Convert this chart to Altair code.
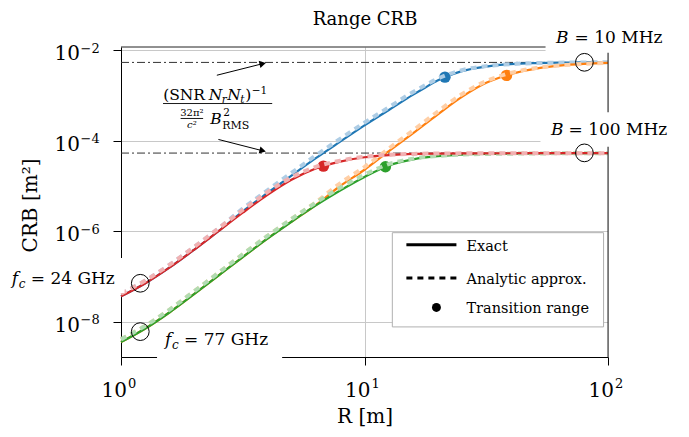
import altair as alt
import pandas as pd

FONT = "DejaVu Serif"

# ---------------- data ----------------
# 24 GHz, B = 100 MHz (red)
R_red = [1.0, 1.259, 1.585, 1.995, 2.512, 3.162, 3.981, 5.012, 6.310, 7.943, 10.0, 12.59,
         15.85, 25.12, 50.12, 100.0]
red_exact = [3.63e-8, 7.08e-8, 1.585e-7, 3.89e-7, 1.0e-6, 2.57e-6, 6.31e-6, 1.38e-5, 2.45e-5,
             3.47e-5, 4.32e-5, 4.84e-5, 5.13e-5, 5.27e-5, 5.31e-5, 5.32e-5]
red_approx = [4.17e-8, 8.13e-8, 1.82e-7, 4.47e-7, 1.15e-6, 2.95e-6, 7.24e-6, 1.55e-5, 2.66e-5,
              3.63e-5, 4.42e-5, 4.90e-5, 5.13e-5, 5.27e-5, 5.31e-5, 5.32e-5]

# 24 GHz, B = 10 MHz (blue)
R_blue = [1.0, 1.259, 1.585, 1.995, 2.512, 3.162, 3.981, 5.012, 6.310, 7.943, 10.0, 12.59,
          15.85, 17.78, 19.95, 22.39, 25.12, 31.62, 39.81, 50.12, 70.79, 100.0]
blue_exact = [3.63e-8, 7.08e-8, 1.585e-7, 3.89e-7, 1.0e-6, 2.75e-6, 6.92e-6, 1.70e-5, 4.12e-5,
              9.55e-5, 2.19e-4, 4.79e-4, 1.047e-3, 1.51e-3, 2.14e-3, 2.82e-3, 3.47e-3, 4.37e-3,
              4.95e-3, 5.22e-3, 5.37e-3, 5.43e-3]
blue_approx = [4.17e-8, 8.13e-8, 1.82e-7, 4.47e-7, 1.15e-6, 3.16e-6, 7.94e-6, 1.95e-5, 4.73e-5,
               1.10e-4, 2.51e-4, 5.50e-4, 1.20e-3, 1.70e-3, 2.34e-3, 3.02e-3, 3.63e-3, 4.47e-3,
               4.95e-3, 5.22e-3, 5.37e-3, 5.43e-3]

# 77 GHz, B = 100 MHz (green)
R_green = [1.0, 1.259, 1.585, 1.995, 2.512, 3.162, 3.981, 5.012, 6.310, 7.943, 10.0, 12.59,
           15.85, 19.95, 25.12, 39.81, 63.10, 100.0]
green_exact = [3.55e-9, 7.08e-9, 1.62e-8, 4.07e-8, 1.047e-7, 2.69e-7, 6.76e-7, 1.62e-6, 3.72e-6,
               7.94e-6, 1.585e-5, 2.85e-5, 3.89e-5, 4.57e-5, 4.95e-5, 5.19e-5, 5.28e-5, 5.32e-5]
green_approx = [4.07e-9, 8.13e-9, 1.86e-8, 4.68e-8, 1.20e-7, 3.09e-7, 7.76e-7, 1.86e-6, 4.27e-6,
                9.12e-6, 1.78e-5, 3.05e-5, 4.03e-5, 4.62e-5, 4.95e-5, 5.19e-5, 5.28e-5, 5.32e-5]

# 77 GHz, B = 10 MHz (orange)
R_orange = [1.0, 1.259, 1.585, 1.995, 2.512, 3.162, 3.981, 5.012, 6.310, 7.943, 10.0, 12.59,
            15.85, 19.95, 25.12, 31.62, 35.48, 39.81, 50.12, 63.10, 79.43, 100.0]
orange_exact = [3.55e-9, 7.08e-9, 1.62e-8, 4.07e-8, 1.047e-7, 2.69e-7, 6.76e-7, 1.62e-6, 3.80e-6,
                1.0e-5, 2.29e-5, 5.89e-5, 1.48e-4, 3.80e-4, 9.33e-4, 1.91e-3, 2.45e-3, 2.99e-3,
                3.89e-3, 4.57e-3, 5.01e-3, 5.25e-3]
orange_approx = [4.07e-9, 8.13e-9, 1.86e-8, 4.68e-8, 1.20e-7, 3.09e-7, 7.76e-7, 1.86e-6, 4.37e-6,
                 1.15e-5, 2.63e-5, 6.76e-5, 1.70e-4, 4.37e-4, 1.07e-3, 2.09e-3, 2.63e-3, 3.16e-3,
                 4.03e-3, 4.62e-3, 5.01e-3, 5.25e-3]

# transition-range dots: red, blue, green, orange
dot_R = [6.78, 21.4, 12.19, 38.3]
dot_CRB = [2.75e-5, 2.55e-3, 2.66e-5, 2.79e-3]

# asymptotes (dash-dot)
asym_CRB = [5.4e-3, 5.35e-5]

# open marker circles
mark_R = [1.2, 1.2, 80.0, 80.0]
mark_CRB = [7.08e-8, 6.04e-9, 5.43e-3, 5.4e-5]

# axis
x_domain = [1.0, 100.0]
y_domain = [1.66e-9, 1.183e-2]
x_ticks = [1, 10, 100]
x_exp = ["0", "1", "2"]
y_ticks = [1e-8, 1e-6, 1e-4, 1e-2]
y_exp = ["\u22128", "\u22126", "\u22124", "\u22122"]

# annotation anchors (data units)
title_pos = (10.05, 0.0356)
b10_pos = (68.9, 0.01427)
b100_pos = (65.7, 1.33e-4)
fc24_pos = (0.356, 6.8e-8)
fc77_pos = (1.517, 3.08e-9)
frac_pos = (2.494, 6.65e-4)
frac_bar = (1.488, 4.178, 6.66e-4)
frac_small_bar = (1.757, 2.174, 3.11e-4)
arrow_start_R = [2.475, 2.512]
arrow_start_C = [2.81e-3, 1.07e-4]
arrow_end_R = [3.818, 3.818]
arrow_end_C = [5.06e-3, 6.01e-5]
# white label boxes: R, R2, C, C2
box_R = [55.4, 52.8, 0.327, 1.406]
box_R2 = [184.4, 184.4, 1.034, 4.59]
box_C = [0.0356, 4.27e-4, 2.56e-7, 8.93e-9]
box_C2 = [8.81e-3, 7.41e-5, 4.33e-8, 1.30e-9]
# legend
leg_box = (13.01, 95.9, 9.3e-7, 7.68e-9)
leg_line_R = (14.86, 23.85)
leg_line_C = [5.0e-7, 9.3e-8]
leg_dot = (19.74, 2.07e-8)
leg_text_R = 26.22
leg_text_C = [3.68e-7, 6.85e-8, 1.52e-8]
leg_labels = ["Exact", "Analytic approx.", "Transition range"]

# ---------------- chart ----------------
xs = alt.Scale(type="log", domain=x_domain, nice=False)
ys = alt.Scale(type="log", domain=y_domain, nice=False)

xaxis = alt.Axis(values=x_ticks, labels=False, ticks=True, tickSize=8, tickColor="black",
                 tickWidth=1, domainColor="black", domainWidth=1, grid=True,
                 gridColor="#c8c8c8", gridWidth=1, title="R [m]", titleFont=FONT,
                 titleFontSize=20, titleFontWeight="normal", titleColor="black",
                 titleBaseline="alphabetic", titleY=65)
yaxis = alt.Axis(values=y_ticks, labels=False, ticks=True, tickSize=8, tickColor="black",
                 tickWidth=1, domainColor="black", domainWidth=1, grid=True,
                 gridColor="#c8c8c8", gridWidth=1, title="CRB [m\u00b2]", titleFont=FONT,
                 titleFontSize=20, titleFontWeight="normal", titleColor="black",
                 titleAngle=270, titleBaseline="alphabetic", titleAlign="center",
                 titleX=-85, titleY=158)


def X(f="R"):
    return alt.X(f"{f}:Q", scale=xs, axis=xaxis)


def Y(f="CRB"):
    return alt.Y(f"{f}:Q", scale=ys, axis=yaxis)


layers = []

# asymptote dash-dot lines
asym = pd.DataFrame({"R": [x_domain[0]] * 2, "R2": [x_domain[1]] * 2, "CRB": asym_CRB})
layers.append(alt.Chart(asym).mark_rule(color="#333333", strokeWidth=1,
                                        strokeDash=[8, 3, 2, 3]).encode(
    x=X(), x2=alt.X2("R2:Q"), y=Y()))

curves = [
    (R_blue, blue_exact, blue_approx, 1, "#1f77b4", "#aecde5"),
    (R_orange, orange_exact, orange_approx, 3, "#ff7f0e", "#ffcfa6"),
    (R_green, green_exact, green_approx, 2, "#2ca02c", "#b2dcb2"),
    (R_red, red_exact, red_approx, 0, "#d62728", "#f1b1b2"),
]
for R, ex, ap, di, col, light in curves:
    d_ex = pd.DataFrame({"R": R, "CRB": ex})
    d_ap = pd.DataFrame({"R": R, "CRB": ap})
    d_dot = pd.DataFrame({"R": [dot_R[di]], "CRB": [dot_CRB[di]]})
    layers.append(alt.Chart(d_ex).mark_line(color=col, strokeWidth=2.2,
                                            interpolate="monotone").encode(x=X(), y=Y()))
    layers.append(alt.Chart(d_dot).mark_circle(color=col, size=130, opacity=1).encode(
        x=X(), y=Y()))
    layers.append(alt.Chart(d_ap).mark_line(color=light, strokeWidth=4, strokeDash=[6, 5],
                                            interpolate="monotone").encode(x=X(), y=Y()))

# frame (top and right)
frame = pd.DataFrame({"R": [x_domain[0], x_domain[1]], "R2": [x_domain[1], x_domain[1]],
                      "CRB": [y_domain[1], y_domain[0]], "C2": [y_domain[1], y_domain[1]]})
layers.append(alt.Chart(frame).mark_rule(color="#222222", strokeWidth=1).encode(
    x=X(), x2=alt.X2("R2:Q"), y=Y(), y2=alt.Y2("C2:Q")))

# white label boxes
boxes = pd.DataFrame({"R": box_R, "R2": box_R2, "CRB": box_C, "C2": box_C2})
layers.append(alt.Chart(boxes).mark_rect(fill="white", strokeWidth=0).encode(
    x=X(), x2=alt.X2("R2:Q"), y=Y(), y2=alt.Y2("C2:Q")))


def txt(pos, s, size, dx=0, dy=0, align="left", style="normal"):
    df = pd.DataFrame({"R": [pos[0]], "CRB": [pos[1]], "t": [s]})
    return alt.Chart(df).mark_text(font=FONT, fontSize=size, fontStyle=style, align=align,
                                   baseline="alphabetic", dx=dx, dy=dy,
                                   color="black").encode(x=X(), y=Y(), text="t:N")


# title
layers.append(txt(title_pos, "Range CRB", 18, align="center"))
# B labels
layers.append(txt(b10_pos, "B", 17, align="right", style="italic"))
layers.append(txt(b10_pos, "= 10 MHz", 17, dx=6))
layers.append(txt(b100_pos, "B", 17, align="right", style="italic"))
layers.append(txt(b100_pos, "= 100 MHz", 17, dx=5))
# fc labels
for p, s in [(fc24_pos, "= 24 GHz"), (fc77_pos, "= 77 GHz")]:
    layers.append(txt(p, "f", 17, style="italic"))
    layers.append(txt(p, "c", 12, dx=7, dy=4, style="italic"))
    layers.append(txt(p, s, 17, dx=19))

# fraction annotation
num_y = -3.3
for s, dx, dy, size, st in [
    ("(SNR", -54.5, num_y, 15.5, "normal"),
    ("N", -9.0, num_y, 15.5, "italic"),
    ("r", 4.0, num_y + 3, 10.5, "italic"),
    ("N", 9.5, num_y, 15.5, "italic"),
    ("t", 22.5, num_y + 3, 10.5, "italic"),
    (")", 27.5, num_y, 15.5, "normal"),
    ("\u22121", 34.0, num_y - 6.5, 10.5, "normal"),
]:
    layers.append(txt(frac_pos, s, size, dx=dx, dy=dy, style=st))
layers.append(txt(frac_pos, "32\u03c0\u00b2", 10, dx=-25.8, dy=12.7, align="center"))
layers.append(txt(frac_pos, "c\u00b2", 10, dx=-25.8, dy=24.2, align="center", style="italic"))
layers.append(txt(frac_pos, "B", 15.5, dx=-7.5, dy=20, style="italic"))
layers.append(txt(frac_pos, "2", 10.5, dx=5.5, dy=12.7))
layers.append(txt(frac_pos, "RMS", 11, dx=4.5, dy=25))

bars = pd.DataFrame({"R": [frac_bar[0], frac_small_bar[0]], "R2": [frac_bar[1], frac_small_bar[1]],
                     "CRB": [frac_bar[2], frac_small_bar[2]]})
layers.append(alt.Chart(bars).mark_rule(color="black", strokeWidth=0.9).encode(
    x=X(), x2=alt.X2("R2:Q"), y=Y()))

arrows = pd.DataFrame({"R": arrow_start_R, "R2": arrow_end_R, "CRB": arrow_start_C,
                       "C2": arrow_end_C})
layers.append(alt.Chart(arrows).mark_rule(color="black", strokeWidth=1).encode(
    x=X(), x2=alt.X2("R2:Q"), y=Y(), y2=alt.Y2("C2:Q")))
for i, ang in enumerate([346, 14]):
    head = pd.DataFrame({"R": [arrow_end_R[i]], "CRB": [arrow_end_C[i]]})
    layers.append(alt.Chart(head).mark_point(shape="triangle-right", filled=True, size=55,
                                             angle=ang, color="black", opacity=1).encode(
        x=X(), y=Y()))

# open marker circles
marks = pd.DataFrame({"R": mark_R, "CRB": mark_CRB})
layers.append(alt.Chart(marks).mark_point(shape="circle", filled=False, size=314,
                                          color="black", strokeWidth=1, opacity=1).encode(
    x=X(), y=Y()))

# legend
lb = pd.DataFrame({"R": [leg_box[0]], "R2": [leg_box[1]], "CRB": [leg_box[2]], "C2": [leg_box[3]]})
layers.append(alt.Chart(lb).mark_rect(fill="white", stroke="#b0b0b0", strokeWidth=1).encode(
    x=X(), x2=alt.X2("R2:Q"), y=Y(), y2=alt.Y2("C2:Q")))
l1 = pd.DataFrame({"R": [leg_line_R[0]], "R2": [leg_line_R[1]], "CRB": [leg_line_C[0]]})
layers.append(alt.Chart(l1).mark_rule(color="black", strokeWidth=3).encode(
    x=X(), x2=alt.X2("R2:Q"), y=Y()))
l2 = pd.DataFrame({"R": [leg_line_R[0]], "R2": [leg_line_R[1]], "CRB": [leg_line_C[1]]})
layers.append(alt.Chart(l2).mark_rule(color="black", strokeWidth=3, strokeDash=[6, 5]).encode(
    x=X(), x2=alt.X2("R2:Q"), y=Y()))
ld = pd.DataFrame({"R": [leg_dot[0]], "CRB": [leg_dot[1]]})
layers.append(alt.Chart(ld).mark_circle(color="black", size=80, opacity=1).encode(x=X(), y=Y()))
lt = pd.DataFrame({"R": [leg_text_R] * 3, "CRB": leg_text_C, "t": leg_labels})
layers.append(alt.Chart(lt).mark_text(font=FONT, fontSize=14.5, align="left",
                                      baseline="alphabetic", color="black").encode(
    x=X(), y=Y(), text="t:N"))

# tick labels
xt = pd.DataFrame({"R": x_ticks, "CRB": [y_domain[0]] * 3, "b": ["10"] * 3, "e": x_exp})
layers.append(alt.Chart(xt).mark_text(font=FONT, fontSize=20, align="right",
                                      baseline="alphabetic", dx=6, dy=40, color="black").encode(
    x=X(), y=Y(), text="b:N"))
layers.append(alt.Chart(xt).mark_text(font=FONT, fontSize=13, align="left",
                                      baseline="alphabetic", dx=7, dy=31, color="black").encode(
    x=X(), y=Y(), text="e:N"))
yt = pd.DataFrame({"R": [x_domain[0]] * 4, "CRB": y_ticks, "b": ["10"] * 4, "e": y_exp})
layers.append(alt.Chart(yt).mark_text(font=FONT, fontSize=20, align="right",
                                      baseline="alphabetic", dx=-41, dy=10, color="black").encode(
    x=X(), y=Y(), text="b:N"))
layers.append(alt.Chart(yt).mark_text(font=FONT, fontSize=13, align="left",
                                      baseline="alphabetic", dx=-40.5, dy=2.5, color="black").encode(
    x=X(), y=Y(), text="e:N"))

chart = alt.layer(*layers).properties(
    width=487, height=310,
    padding={"left": 113, "top": 39, "right": 73, "bottom": 72},
    autosize=alt.AutoSizeParams(type="none"),
).configure_view(strokeWidth=0)

chart.save("out.html", embed_options={"renderer": "svg", "actions": False})
